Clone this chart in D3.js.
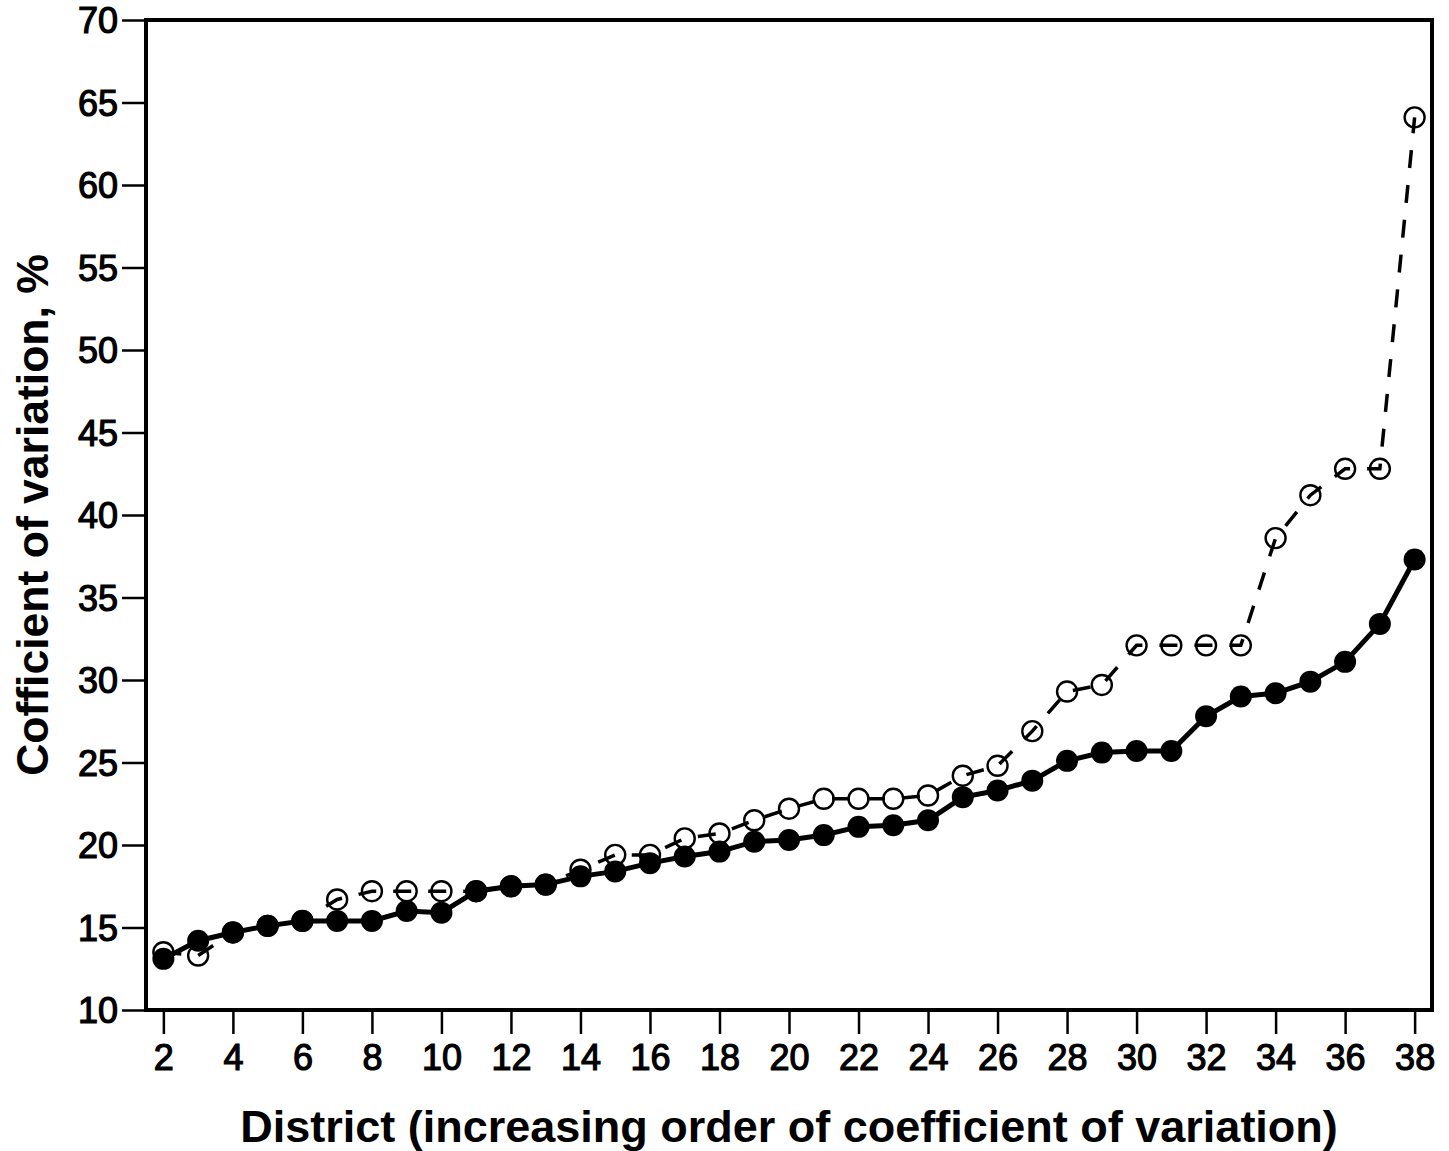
<!DOCTYPE html>
<html>
<head>
<meta charset="utf-8">
<script src="https://d3js.org/d3.v7.min.js"></script>
<style>
	body { margin: 0; background: #fff; }
	svg text { font-family: "Liberation Sans", Arial, sans-serif; fill: #000; }
</style>
</head>
<body>
<svg id="chart" width="1449" height="1151"></svg>
<script>
// districts in increasing order of coefficient of variation
var districts = d3.range(2, 39);

// solid line, filled markers
var cvFilled = [13.1, 14.2, 14.7, 15.1, 15.4, 15.4, 15.4, 16.0, 15.9, 17.2,
	17.5, 17.6, 18.1, 18.4, 18.9, 19.3, 19.6, 20.2, 20.3, 20.6,
	21.1, 21.2, 21.5, 22.9, 23.3, 23.9, 25.1, 25.6, 25.7, 25.7,
	27.8, 29.0, 29.2, 29.9, 31.1, 33.4, 37.3];

// dashed line, open markers
var cvOpen = [13.5, 13.3, 14.7, 15.1, 15.4, 16.7, 17.2, 17.2, 17.2, 17.2,
	17.5, 17.6, 18.5, 19.4, 19.4, 20.4, 20.7, 21.5, 22.2, 22.8,
	22.8, 22.8, 23.0, 24.2, 24.8, 26.9, 29.3, 29.7, 32.1, 32.1,
	32.1, 32.1, 38.6, 41.2, 42.8, 42.8, 64.1];

var xTicks = d3.range(2, 39, 2);
var yTicks = d3.range(10, 71, 5);

var xLabel = 'District (increasing order of coefficient of variation)';
var yLabel = 'Cofficient of variation, %';

var svg = d3.select('svg#chart');

var plotLeft = 146, plotRight = 1432, plotTop = 20, plotBottom = 1010;

var x = d3.scaleLinear().domain([1.5, 38.5]).range([plotLeft, plotRight]);
var y = d3.scaleLinear().domain([10, 70]).range([plotBottom, plotTop]);

var filled = districts.map((d, i) => ({ d: d, v: cvFilled[i] }));
var open = districts.map((d, i) => ({ d: d, v: cvOpen[i] }));

// axes
var xAxis = svg.append('g')
	.attr('transform', `translate(0, ${plotBottom})`)
	.call(d3.axisBottom(x).tickValues(xTicks).tickSize(24).tickPadding(10).tickSizeOuter(0));

var yAxis = svg.append('g')
	.attr('transform', `translate(${plotLeft}, 0)`)
	.call(d3.axisLeft(y).tickValues(yTicks).tickSize(24).tickPadding(4).tickSizeOuter(0));

[xAxis, yAxis].forEach(function(ax) {
	ax.attr('font-size', 36);
	ax.select('.domain').remove();
	ax.selectAll('.tick line').attr('stroke', '#000').attr('stroke-width', 2.5);
	ax.selectAll('.tick text')
		.attr('fill', '#000')
		.attr('stroke', '#000')
		.attr('stroke-width', 1.2);
});
yAxis.selectAll('.tick text').attr('dy', '0.36em');

// frame
svg.append('rect')
	.attr('x', plotLeft)
	.attr('y', plotTop)
	.attr('width', plotRight - plotLeft)
	.attr('height', plotBottom - plotTop)
	.attr('fill', 'none')
	.attr('stroke', '#000')
	.attr('stroke-width', 4);

var line = d3.line().x(p => x(p.d)).y(p => y(p.v));

// dashed series first, so filled markers sit on top where they overlap
svg.append('path')
	.datum(open)
	.attr('d', line)
	.attr('fill', 'none')
	.attr('stroke', '#000')
	.attr('stroke-width', 3.5)
	.attr('stroke-dasharray', '18,17');

svg.append('g').selectAll('circle')
	.data(open)
	.join('circle')
	.attr('cx', p => x(p.d))
	.attr('cy', p => y(p.v))
	.attr('r', 10)
	.attr('fill', 'none')
	.attr('stroke', '#000')
	.attr('stroke-width', 2.4);

svg.append('path')
	.datum(filled)
	.attr('d', line)
	.attr('fill', 'none')
	.attr('stroke', '#000')
	.attr('stroke-width', 5);

svg.append('g').selectAll('circle')
	.data(filled)
	.join('circle')
	.attr('cx', p => x(p.d))
	.attr('cy', p => y(p.v))
	.attr('r', 11)
	.attr('fill', '#000');

// axis titles
svg.append('text')
	.attr('x', 789)
	.attr('y', 1142)
	.attr('text-anchor', 'middle')
	.attr('font-size', 45)
	.attr('font-weight', 'bold')
	.text(xLabel);

svg.append('text')
	.attr('transform', 'translate(48, 515) rotate(-90)')
	.attr('text-anchor', 'middle')
	.attr('font-size', 44.5)
	.attr('font-weight', 'bold')
	.text(yLabel);
</script>
</body>
</html>
